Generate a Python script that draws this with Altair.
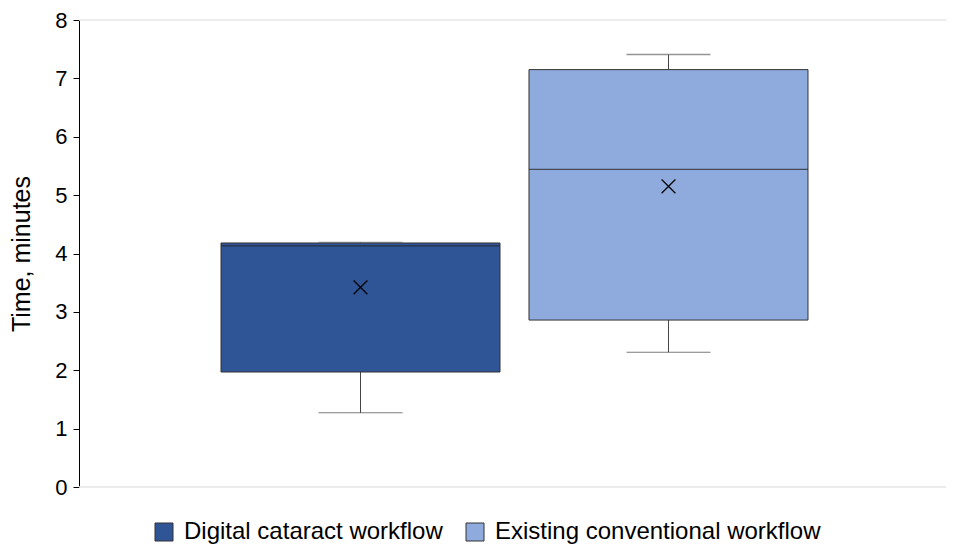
import altair as alt
import pandas as pd

workflows = ["Digital cataract workflow", "Existing conventional workflow"]
mins = [1.27, 2.31]
q1s = [1.97, 2.86]
medians = [4.13, 5.44]
q3s = [4.18, 7.15]
maxs = [4.19, 7.41]
means = [3.42, 5.15]
colors = ["#2F5597", "#8FAADC"]

df = pd.DataFrame({
    "workflow": workflows, "min": mins, "q1": q1s, "median": medians,
    "q3": q3s, "max": maxs, "mean": means,
})

W = 867
xs = alt.Scale(domain=workflows, paddingInner=0, paddingOuter=0.4075, range=[2, W + 2])
x = alt.X("workflow:N", scale=xs, axis=None, sort=workflows)
ys = alt.Scale(domain=[0, 8], nice=False, zero=True)
yaxis = alt.Axis(values=list(range(0, 9)), format="d", grid=False, domainColor="black", tickColor="black",
                 tickSize=6, labelFontSize=22, labelColor="black", labelPadding=6,
                 titleFontSize=25, titleColor="black", titleFontWeight="normal",
                 titlePadding=20, labelFont="Liberation Sans", titleFont="Liberation Sans")
T = "Time, minutes"

def Y(field):
    return alt.Y(field, scale=ys, axis=yaxis, title=T)

base = alt.Chart(df)

frame = alt.Chart(pd.DataFrame({"v": [0, 8]})).mark_rule(color="#e6e6e6", strokeWidth=1.5).encode(
    y=Y("v:Q"), x=alt.value(0), x2=alt.value(W))

low = base.mark_rule(color="#444", strokeWidth=1).encode(x=x, y=Y("min:Q"), y2="q1:Q")
high = base.mark_rule(color="#444", strokeWidth=1).encode(x=x, y=Y("q3:Q"), y2="max:Q")
capl = base.mark_tick(color="#444", size=84, thickness=1).encode(x=x, y=Y("min:Q"))
caph = base.mark_tick(color="#666", size=84, thickness=1.5).encode(x=x, y=Y("max:Q"))
box = base.mark_bar(size=279, stroke="#333", strokeWidth=1).encode(
    x=x, y=Y("q1:Q"), y2="q3:Q",
    color=alt.Color("workflow:N", scale=alt.Scale(domain=workflows, range=colors),
                    legend=alt.Legend(title=None, orient="none", legendX=73, legendY=500,
                                      direction="horizontal", symbolType="square", symbolSize=324,
                                      symbolStrokeColor="#333", symbolStrokeWidth=1, symbolOpacity=1,
                                      labelFontSize=24, labelColor="black", labelFont="Liberation Sans",
                                      columnPadding=20, labelOffset=8, labelLimit=500)))
med = base.mark_tick(color="#222", size=279, thickness=1.2).encode(x=x, y=Y("median:Q"))
mean = base.mark_point(shape="M-1,-1L1,1M1,-1L-1,1", size=190, filled=False, color="black",
                       strokeWidth=1.2, opacity=1).encode(x=x, y=Y("mean:Q"))

chart = alt.layer(frame, low, high, capl, box, caph, med, mean).properties(
    width=W, height=467,
    autosize=alt.AutoSizeParams(type="none"),
    padding={"left": 71, "top": 12, "right": 0, "bottom": 58},
).configure_view(stroke=None)

chart.save("out.html", embed_options={"renderer": "svg", "actions": False})
